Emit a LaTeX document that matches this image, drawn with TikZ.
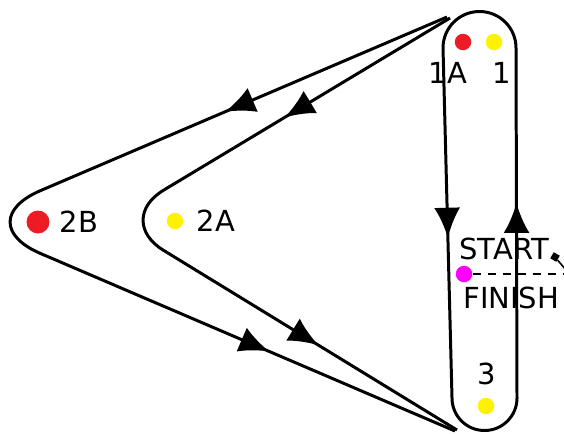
\documentclass[tikz,border=0pt]{standalone}
\usepackage{fontspec}
\setmainfont{DejaVu Sans}
\usetikzlibrary{arrows.meta,decorations.markings}
\definecolor{dotred}{RGB}{237,28,36}
\definecolor{dotyellow}{RGB}{255,242,0}
\definecolor{dotmagenta}{RGB}{255,0,255}

\begin{document}
\begin{tikzpicture}[x=0.02cm, y=-0.02cm,
  track/.style={line width=1.7pt, postaction={decorate}},
  tipsat/.style 2 args={decoration={markings,
    mark=at position #1 with {\arrow{Latex[length=6mm,width=5.2mm]}},
    mark=at position #2 with {\arrow{Latex[length=6mm,width=5.2mm]}}}},
  dot/.style={circle, minimum size=3.3mm, inner sep=0pt},
  lbl/.style={font=\fontsize{16.5}{16.5}\selectfont, inner sep=0pt}]
\useasboundingbox (0,0) rectangle (564,433);

% Points where the loops meet the pit lane
\coordinate (TopOuter) at (447,17);
\coordinate (TopInner) at (450,18);
\coordinate (BotOuter) at (455,431);
\coordinate (BotInner) at (457,430);
\coordinate (ApexB) at (-33,222);
\coordinate (ApexA) at (114,220);

% Outer and inner loops
\draw[track, rounded corners=1.6cm, tipsat={0.245}{0.795}] (TopOuter) -- (ApexB) -- (BotOuter);
\draw[track, rounded corners=1.16cm, tipsat={0.256}{0.785}] (TopInner) -- (ApexA) -- (BotInner);

% Straight
\draw[track, tipsat={0.207}{0.706}] (443,48) -- (452,398)
   .. controls (452,416) and (466.5,430.5) .. (484.5,430.5)
   .. controls (502.5,430.5) and (517,416) .. (517,398) -- (516,48)
   .. controls (516,27.8) and (499.7,11.5) .. (479.5,11.5)
   .. controls (459.3,11.5) and (443,27.8) .. (443,48) -- cycle;

% Dots and their labels
\node[dot, fill=dotred, minimum size=4.6mm] (Dot2B) at (38,222) {};
\node[lbl] (Lbl2B) at (79,222) {2B};
\node[dot, fill=dotyellow] (Dot2A) at (175,221) {};
\node[lbl] (Lbl2A) at (216,221) {2A};
\node[dot, fill=dotred] (Dot1A) at (463,42) {};
\node[dot, fill=dotyellow] (Dot1) at (494,42) {};
\node[lbl] (Lbl1A) at (448,73) {1A};
\node[lbl] (Lbl1) at (502,73) {1};
\node[lbl] (Lbl3) at (487,374) {3};
\node[dot, fill=dotyellow] (Dot3) at (486,406) {};

% Start / finish line
\node[dot, fill=dotmagenta] (DotStart) at (464,274) {};
\coordinate (LineEnd) at (566,274);
\draw[line width=0.8pt, dash pattern=on 0.16cm off 0.14cm] (DotStart) -- (LineEnd);
\node[lbl, anchor=west] (LblStart) at (459,249) {START};
\node[lbl, anchor=west] (LblFinish) at (463,298) {FINISH};
\node[fill, minimum size=1.4mm, inner sep=0pt, rotate=-30] (Flag) at (555,257) {};
\coordinate (FlagEnd) at (566,270);
\draw[line width=0.9pt] (Flag) -- (FlagEnd);

\end{tikzpicture}
\end{document}
